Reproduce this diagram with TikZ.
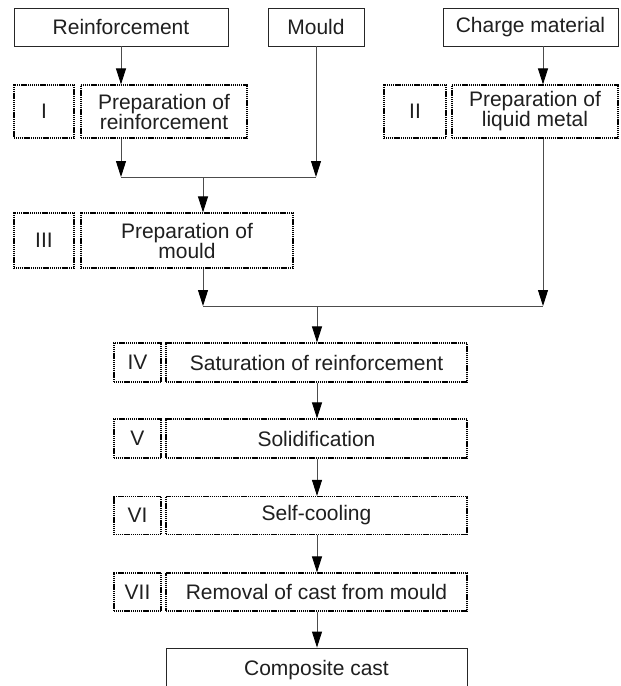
\documentclass[tikz,border=0pt]{standalone}
\usepackage{fontspec}
\setmainfont{Liberation Sans}
\usetikzlibrary{arrows.meta}
\begin{document}
\begin{tikzpicture}[x=1pt,y=-1pt,
  basebox/.style={inner sep=0pt, align=center, text=black!88, font=\fontsize{21}{20}\selectfont},
  solidbox/.style={basebox, draw=black!85, line width=0.9pt},
  dotbox/.style={basebox, draw=black, line width=1.2pt, dash pattern=on 1.2pt off 0.7pt},
  conn/.style={draw=black!70, line width=0.9pt},
  arr/.style={conn, -{Triangle[length=16pt,width=10pt,color=black]}}]
\clip (0,0) rectangle (621,686);
\fill[white] (0,0) rectangle (621,686);
% top row
\node[solidbox, minimum width=214pt, minimum height=38pt] (reinf) at (121,27) {Reinforcement};
\node[solidbox, minimum width=96pt, minimum height=38pt] (mould) at (316,27) {Mould};
\node[solidbox, minimum width=175pt, minimum height=38pt] (charge) at (530.5,27) {Charge material};
% row 2
\node[dotbox, minimum width=60pt, minimum height=53pt] (I) at (44,111.5) {I};
\node[dotbox, minimum width=166pt, minimum height=53pt] (prepR) at (164,111.5) {Preparation of\\reinforcement};
\node[dotbox, minimum width=62pt, minimum height=53pt] (II) at (415,111.5) {II};
\node[dotbox, minimum width=166pt, minimum height=53pt] (prepL) at (535,111.5) {Preparation of\\liquid metal};
% row 3
\node[dotbox, minimum width=60pt, minimum height=55pt] (III) at (44,240.5) {III};
\node[dotbox, minimum width=212pt, minimum height=55pt] (prepM) at (187,240.5) {Preparation of\\mould};
% column
\node[dotbox, minimum width=47pt, minimum height=39pt] (IV) at (137.5,362.5) {IV};
\node[dotbox, minimum width=301pt, minimum height=39pt] (sat) at (316.5,362.5) {Saturation of reinforcement};
\node[dotbox, minimum width=47pt, minimum height=39pt] (V) at (137.5,438.5) {V};
\node[dotbox, minimum width=301pt, minimum height=39pt] (sol) at (316.5,438.5) {Solidification};
\node[dotbox, minimum width=47pt, minimum height=38pt] (VI) at (137.5,515.5) {VI};
\node[dotbox, minimum width=301pt, minimum height=38pt] (cool) at (316.5,515.5) {Self-cooling};
\node[dotbox, minimum width=47pt, minimum height=38pt] (VII) at (137.5,592) {VII};
\node[dotbox, minimum width=301pt, minimum height=38pt] (rem) at (316.5,592) {Removal of cast from mould};
\node[solidbox, minimum width=301pt, minimum height=44pt] (comp) at (316.5,670) {Composite cast};
% junction points
\coordinate (j1) at (203,177);
\coordinate (j2l) at (203,306);
\coordinate (j2) at (317,306);
\coordinate (j2r) at (543,306);
% connectors
\draw[arr] (reinf.south) -- (prepR.north -| reinf.south);
\draw[arr] (prepR.south -| reinf.south) -- (j1 -| reinf.south);
\draw[arr] (mould.south) -- (j1 -| mould.south);
\draw[conn] (j1 -| reinf.south) -- (j1 -| mould.south);
\draw[arr] (j1) -- (prepM.north -| j1);
\draw[arr] (charge.south -| j2r) -- (prepL.north -| j2r);
\draw[arr] (prepL.south -| j2r) -- (j2r);
\draw[arr] (prepM.south -| j2l) -- (j2l);
\draw[conn] (j2l) -- (j2r);
\draw[arr] (j2) -- (sat.north -| j2);
\draw[arr] (sat.south -| j2) -- (sol.north -| j2);
\draw[arr] (sol.south -| j2) -- (cool.north -| j2);
\draw[arr] (cool.south -| j2) -- (rem.north -| j2);
\draw[arr] (rem.south -| j2) -- (comp.north -| j2);
\end{tikzpicture}
\end{document}
